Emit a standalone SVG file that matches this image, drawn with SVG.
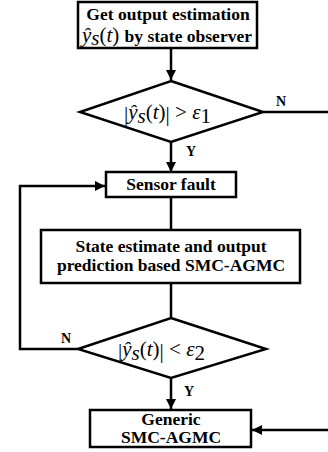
<svg xmlns="http://www.w3.org/2000/svg" width="328" height="452" viewBox="0 0 328 452">
<style>
text, tspan{font-family:"Liberation Serif","Times New Roman",serif}
.box{fill:#fff;stroke:#000;stroke-width:2.5}
.ln{fill:none;stroke:#000;stroke-width:2.5}
.t{font-weight:bold;font-size:17.5px;fill:#000}
.m{font-style:italic;font-size:21px;fill:#000}
.mr{font-size:21px;fill:#000}
.lb{font-weight:bold;font-size:14px;fill:#000}
</style>
<defs>
<marker id="ah" viewBox="0 0 10 10" refX="10" refY="5" markerWidth="4" markerHeight="4" markerUnits="strokeWidth" orient="auto">
<path d="M0,0 L10,5 L0,10 z" fill="#000"/>
</marker>
</defs>
<g id="connectors">
<line class="ln" x1="171" y1="48" x2="171" y2="80" marker-end="url(#ah)"/>
<line class="ln" x1="263" y1="112" x2="328" y2="112"/>
<line class="ln" x1="171" y1="142" x2="171" y2="172" marker-end="url(#ah)"/>
<line class="ln" x1="171" y1="197" x2="171" y2="230"/>
<line class="ln" x1="171" y1="283" x2="171" y2="318"/>
<polyline class="ln" points="78,349 20,349 20,186 105,186" marker-end="url(#ah)"/>
<line class="ln" x1="171" y1="378" x2="171" y2="409" marker-end="url(#ah)"/>
<line class="ln" x1="328" y1="430" x2="252" y2="430" marker-end="url(#ah)"/>
<text class="lb" x="276" y="106">N</text>
<text class="lb" x="186" y="156">Y</text>
<text class="lb" x="61" y="343">N</text>
<text class="lb" x="184" y="396">Y</text>
</g>
<g id="n1">
<rect class="box" x="78" y="2" width="179" height="46"/>
<text class="t" x="168" y="20" text-anchor="middle">Get output estimation</text>
<text x="82" y="42"><tspan class="m" font-size="19">ŷ</tspan><tspan class="m" font-size="12" dy="3">s</tspan><tspan class="mr" font-size="19" dy="-3">(</tspan><tspan class="m" font-size="19">t</tspan><tspan class="mr" font-size="19">) </tspan><tspan class="t">by state observer</tspan></text>
</g>
<g id="d1">
<polygon class="box" points="171,81 263,112 171,142 80,112"/>
<text x="124" y="119"><tspan class="mr" font-size="27" dy="2">|</tspan><tspan class="m" dy="-2">ŷ</tspan><tspan class="m" font-size="12" dy="4">s</tspan><tspan class="mr" dy="-4">(</tspan><tspan class="m">t</tspan><tspan class="mr">)</tspan><tspan class="mr" font-size="27" dy="2">|</tspan><tspan class="mr" dy="-2"> &gt; </tspan><tspan class="m">ε</tspan><tspan class="mr" font-size="12" dy="4">1</tspan></text>
</g>
<g id="n2">
<rect class="box" x="106" y="172" width="130" height="25"/>
<text class="t" x="171" y="190" text-anchor="middle">Sensor fault</text>
</g>
<g id="n3">
<rect class="box" x="41" y="230" width="259" height="53"/>
<text class="t" x="171" y="252" text-anchor="middle">State estimate and output</text>
<text class="t" x="171" y="271" text-anchor="middle">prediction based SMC-AGMC</text>
</g>
<g id="d2">
<polygon class="box" points="171,318 266,349 171,378 78,349"/>
<text x="118" y="356"><tspan class="mr" font-size="27" dy="2">|</tspan><tspan class="m" dy="-2">ŷ</tspan><tspan class="m" font-size="12" dy="4">s</tspan><tspan class="mr" dy="-4">(</tspan><tspan class="m">t</tspan><tspan class="mr">)</tspan><tspan class="mr" font-size="27" dy="2">|</tspan><tspan class="mr" dy="-2"> &lt; </tspan><tspan class="m">ε</tspan><tspan class="mr" font-size="12" dy="4">2</tspan></text>
</g>
<g id="n4">
<rect class="box" x="90" y="410" width="161" height="37"/>
<text class="t" x="171" y="425" font-size="15" text-anchor="middle">Generic</text>
<text class="t" x="171" y="443" font-size="15" text-anchor="middle">SMC-AGMC</text>
</g>
</svg>
